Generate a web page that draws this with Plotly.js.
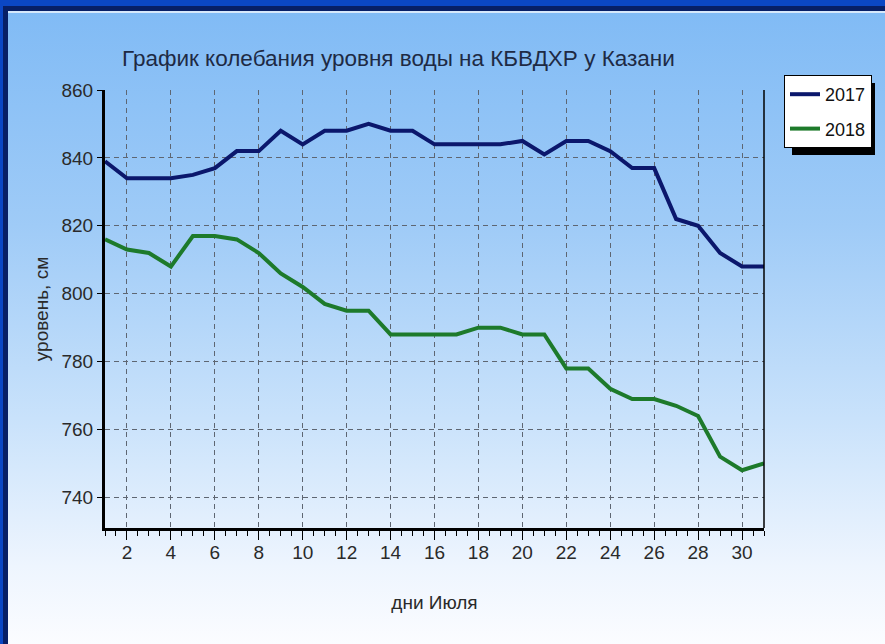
<!DOCTYPE html>
<html>
<head>
<meta charset="utf-8">
<script src="https://cdn.plot.ly/plotly-3.0.1.min.js"></script>
<style>
  html, body { margin: 0; padding: 0; }
  #wrap {
    position: relative; width: 885px; height: 644px; overflow: hidden;
    background: linear-gradient(to bottom, #7fbaf5 0%, #9fcbf7 35%, #c9e2fb 65%, #eef5fe 88%, #fbfcff 100%);
  }
  #topband { position: absolute; left: 0; top: 0; width: 885px; height: 6px; background: #0b47c4; }
  #topnavy { position: absolute; left: 0; top: 6px; width: 885px; height: 5px; background: #071f66; }
  #topline { position: absolute; left: 8px; top: 11px; width: 877px; height: 2px; background: #d6e8fb; }
  #leftband { position: absolute; left: 0; top: 0; width: 3px; height: 644px; background: #0b47c4; }
  #leftnavy { position: absolute; left: 3px; top: 6px; width: 5px; height: 638px; background: #071f66; }
  #chart { position: absolute; left: 0; top: 0; width: 885px; height: 644px; }
</style>
</head>
<body>
<div id="wrap">
  <div id="topband"></div><div id="topnavy"></div><div id="topline"></div>
  <div id="leftband"></div><div id="leftnavy"></div>
  <div id="chart"></div>
</div>
<script>
// ---- data ----
const days = [1,2,3,4,5,6,7,8,9,10,11,12,13,14,15,16,17,18,19,20,21,22,23,24,25,26,27,28,29,30,31];
const level2017 = [839,834,834,834,835,837,842,842,848,844,848,848,850,848,848,844,844,844,844,845,841,845,845,842,837,837,822,820,812,808,808];
const level2018 = [816,813,812,808,817,817,816,812,806,802,797,795,795,788,788,788,788,790,790,788,788,778,778,772,769,769,767,764,752,748,750];
const seriesNames = ['2017', '2018'];
const xTickVals = [2,4,6,8,10,12,14,16,18,20,22,24,26,28,30];
const yTickVals = [740,760,780,800,820,840,860];
const titleText = 'График колебания уровня воды на КБВДХР у Казани';
const xTitle = 'дни Июля';
const yTitle = 'уровень, см';

const F = "'Liberation Sans', Arial, sans-serif";

const traces = [
  { x: days, y: level2017, name: seriesNames[0], legendgroup: 'a', type: 'scatter', mode: 'lines',
    line: { color: '#0b176c', width: 4 } },
  { x: days, y: level2018, name: seriesNames[1], legendgroup: 'b', type: 'scatter', mode: 'lines',
    line: { color: '#1d7a2b', width: 4 } }
];

const layout = {
  width: 885, height: 644,
  margin: { l: 105, r: 121, t: 90, b: 116 },
  paper_bgcolor: 'rgba(0,0,0,0)',
  plot_bgcolor: 'rgba(0,0,0,0)',
  font: { family: F, color: '#2a2a2a', size: 19 },
  title: { text: titleText, xref: 'container', x: 122/885, xanchor: 'left',
           yref: 'container', y: 1 - 58/644, yanchor: 'middle',
           font: { family: F, size: 22.5, color: '#1e2a44' } },
  xaxis: {
    range: [1, 31], tickvals: xTickVals, ticks: 'outside', ticklen: 9, tickwidth: 1, tickcolor: '#000',
    showline: true, linecolor: '#000', linewidth: 3, zeroline: false,
    showgrid: true, gridcolor: '#5e6672', gridwidth: 1, griddash: '5px,4px',
    minor: { dtick: 0.5, tick0: 1, ticks: 'outside', ticklen: 5, tickcolor: '#000', tickwidth: 1, showgrid: false },
    tickfont: { family: F, size: 19, color: '#2a2a2a' },
    ticklabelstandoff: -4,
    title: { text: xTitle, standoff: 34, font: { family: F, size: 19, color: '#2a2a2a' } },
    fixedrange: true
  },
  yaxis: {
    range: [731, 860], tickvals: yTickVals, ticks: 'outside', ticklen: 5, tickwidth: 1, tickcolor: '#000',
    showline: true, linecolor: '#000', linewidth: 3, zeroline: false,
    showgrid: true, gridcolor: '#5e6672', gridwidth: 1, griddash: '5px,4px',
    tickfont: { family: F, size: 19, color: '#2a2a2a' },
    title: { text: yTitle, standoff: 8, font: { family: F, size: 19, color: '#2a2a2a' } },
    fixedrange: true
  },
  showlegend: true,
  legend: {
    x: (784-105)/659, xanchor: 'left', y: 1 + 15/438, yanchor: 'top',
    bgcolor: '#ffffff', bordercolor: '#000', borderwidth: 1, tracegroupgap: 8,
    font: { family: F, size: 18, color: '#111' }, itemwidth: 30
  },
  shapes: [
    { type: 'line', xref: 'paper', yref: 'paper', x0: 1, x1: 1, y0: 0, y1: 1,
      line: { color: '#000', width: 1.5 } },
    { type: 'rect', xref: 'paper', yref: 'paper', layer: 'below',
      x0: (792-105)/659, x1: (875-105)/659, y0: 1 - (155-90)/438, y1: 1 - (83-90)/438,
      fillcolor: '#000', line: { width: 0 } }
  ]
};

Plotly.newPlot('chart', traces, layout, { staticPlot: true, displayModeBar: false });
</script>
</body>
</html>
